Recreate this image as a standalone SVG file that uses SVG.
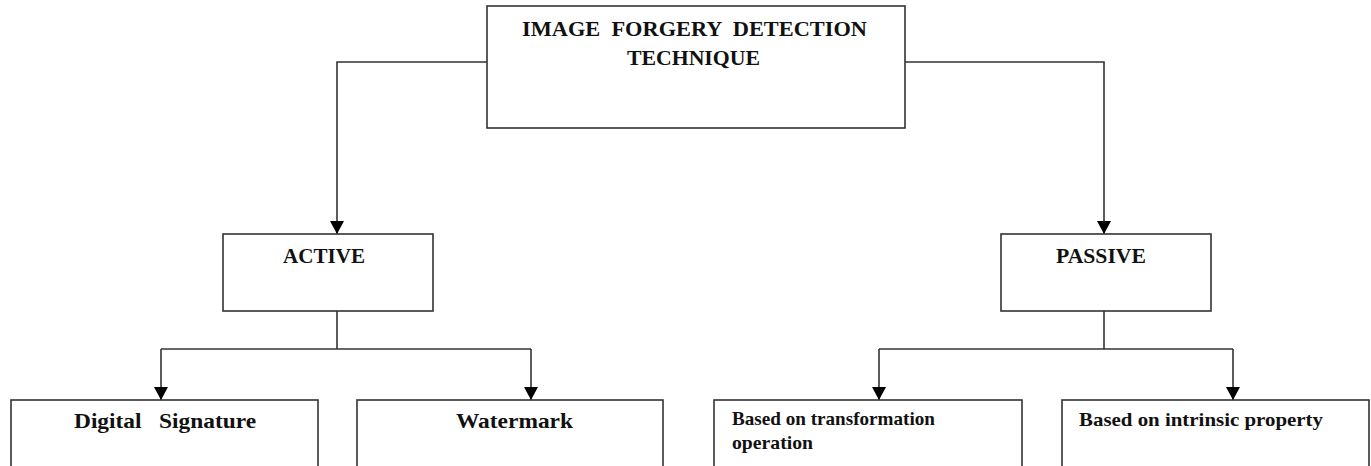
<svg xmlns="http://www.w3.org/2000/svg" width="1371" height="466" viewBox="0 0 1371 466">
  <style>
    .box { fill: #ffffff; stroke: #333333; stroke-width: 1.6; }
    .wire { fill: none; stroke: #333333; stroke-width: 1.6; }
    .lbl { font-family: "Liberation Serif", "Times New Roman", serif; font-weight: bold; fill: #111111; }
    .big { font-size: 22px; }
    .small { font-size: 19px; }
  </style>
  <defs>
    <marker id="arrow" markerUnits="userSpaceOnUse" markerWidth="14" markerHeight="14" viewBox="0 0 14 14" refX="13" refY="7" orient="auto">
      <path d="M0,0 L13,7 L0,14 Z" fill="#000000"/>
    </marker>
  </defs>
  <rect width="1371" height="466" fill="#ffffff"/>

  <g id="connectors">
    <!-- root to ACTIVE / PASSIVE -->
    <path class="wire" d="M487,62 H337 V234" marker-end="url(#arrow)"/>
    <path class="wire" d="M905,62 H1104 V234" marker-end="url(#arrow)"/>
    <!-- ACTIVE branches -->
    <path class="wire" d="M337,311 V349"/>
    <path class="wire" d="M161,349 H531"/>
    <path class="wire" d="M161,349 V400" marker-end="url(#arrow)"/>
    <path class="wire" d="M531,349 V400" marker-end="url(#arrow)"/>
    <!-- PASSIVE branches -->
    <path class="wire" d="M1104,311 V349"/>
    <path class="wire" d="M879,349 H1233"/>
    <path class="wire" d="M879,349 V400" marker-end="url(#arrow)"/>
    <path class="wire" d="M1233,349 V400" marker-end="url(#arrow)"/>
  </g>

  <g id="root">
    <rect class="box" x="487" y="6" width="418" height="122"/>
    <text class="lbl big" xml:space="preserve" x="522" y="36" textLength="345" lengthAdjust="spacingAndGlyphs">IMAGE  FORGERY  DETECTION</text>
    <text class="lbl big" x="627" y="65" textLength="133" lengthAdjust="spacingAndGlyphs">TECHNIQUE</text>
  </g>

  <g id="active">
    <rect class="box" x="223" y="234" width="210" height="77"/>
    <text class="lbl big" x="283" y="263" textLength="82" lengthAdjust="spacingAndGlyphs">ACTIVE</text>
  </g>

  <g id="passive">
    <rect class="box" x="1001" y="234" width="210" height="77"/>
    <text class="lbl big" x="1056" y="263" textLength="90" lengthAdjust="spacingAndGlyphs">PASSIVE</text>
  </g>

  <g id="digital-signature">
    <rect class="box" x="11" y="400" width="307" height="80"/>
    <text class="lbl big" xml:space="preserve" x="74" y="428" textLength="182" lengthAdjust="spacingAndGlyphs">Digital   Signature</text>
  </g>

  <g id="watermark">
    <rect class="box" x="357" y="400" width="306" height="80"/>
    <text class="lbl big" x="456" y="428" textLength="117" lengthAdjust="spacingAndGlyphs">Watermark</text>
  </g>

  <g id="transformation">
    <rect class="box" x="714" y="400" width="308" height="80"/>
    <text class="lbl small" x="732" y="425" textLength="203" lengthAdjust="spacingAndGlyphs">Based on transformation</text>
    <text class="lbl small" x="732" y="449" textLength="81" lengthAdjust="spacingAndGlyphs">operation</text>
  </g>

  <g id="intrinsic">
    <rect class="box" x="1062" y="400" width="307" height="80"/>
    <text class="lbl small" x="1079" y="426" textLength="244" lengthAdjust="spacingAndGlyphs">Based on intrinsic property</text>
  </g>
</svg>
